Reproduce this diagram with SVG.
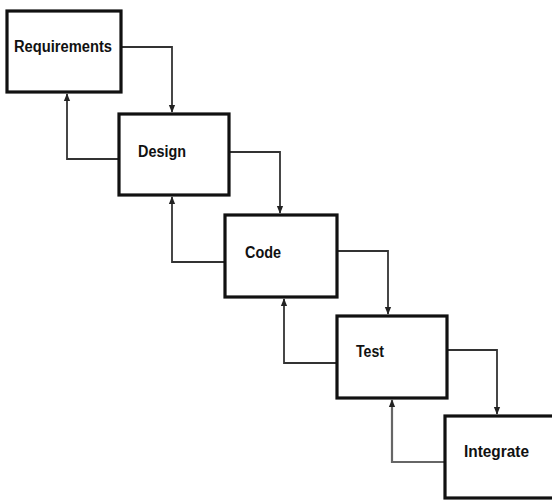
<svg xmlns="http://www.w3.org/2000/svg" width="552" height="500" viewBox="0 0 552 500">
  <defs>
    <marker id="arr" viewBox="0 0 10 10" refX="9" refY="5" markerWidth="8" markerHeight="8" orient="auto" markerUnits="userSpaceOnUse">
      <path d="M0,1 L10,5 L0,9 Z" fill="#222"/>
    </marker>
  </defs>
  <style>
    .box { fill: #fff; stroke: #111; stroke-width: 3.2; }
    .lbl { font-family: "Liberation Sans", Arial, sans-serif; font-weight: bold; font-size: 16px; fill: #111; }
    .con { fill: none; stroke: #333; stroke-width: 1.8; marker-end: url(#arr); }
    .fb { stroke: #666; stroke-width: 2.2; }
  </style>
  <rect width="552" height="500" fill="#fff"/>

  <g id="connectors">
    <!-- forward flow -->
    <polyline class="con" points="121,47 172,47 172,112"/>
    <polyline class="con" points="229,152 280,152 280,213"/>
    <polyline class="con" points="337,251 388,251 388,314"/>
    <polyline class="con" points="447,350 497,350 497,414"/>
    <!-- feedback flow -->
    <polyline class="con" points="119,159 67,159 67,94"/>
    <polyline class="con" points="225,262 172,262 172,197"/>
    <polyline class="con" points="337,363 284,363 284,299"/>
    <polyline class="con fb" points="445,462 392,462 392,400"/>
  </g>

  <g id="requirements">
    <rect class="box" x="7" y="11" width="114" height="81"/>
    <text class="lbl" x="14" y="52" textLength="98" lengthAdjust="spacingAndGlyphs">Requirements</text>
  </g>
  <g id="design">
    <rect class="box" x="119" y="114" width="110" height="81"/>
    <text class="lbl" x="138" y="157" textLength="48" lengthAdjust="spacingAndGlyphs">Design</text>
  </g>
  <g id="code">
    <rect class="box" x="225" y="215" width="112" height="82"/>
    <text class="lbl" x="245" y="258" textLength="36" lengthAdjust="spacingAndGlyphs">Code</text>
  </g>
  <g id="test">
    <rect class="box" x="337" y="316" width="110" height="82"/>
    <text class="lbl" x="356" y="357" textLength="28" lengthAdjust="spacingAndGlyphs">Test</text>
  </g>
  <g id="integrate">
    <rect class="box" x="445" y="416" width="120" height="82"/>
    <text class="lbl" x="464" y="457" textLength="65" lengthAdjust="spacingAndGlyphs">Integrate</text>
  </g>
</svg>
